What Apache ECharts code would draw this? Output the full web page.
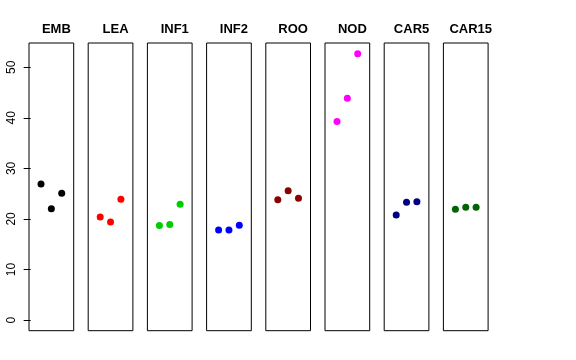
<!DOCTYPE html>
<html>
<head>
<meta charset="utf-8">
<script src="https://cdn.jsdelivr.net/npm/echarts@6/dist/echarts.min.js"></script>
<style>html,body{margin:0;padding:0;background:#fff}#c{width:576px;height:360px}</style>
</head>
<body>
<div id="c"></div>
<script>
const panels = ["EMB","LEA","INF1","INF2","ROO","NOD","CAR5","CAR15"];
const colors = ["#000000","#FF0000","#00CD00","#0000FF","#8B0000","#FF00FF","#000080","#006400"];
const positions = [1,2,3];
const EMB = [26.9,22.0,25.1];
const LEA = [20.4,19.4,23.9];
const INF1 = [18.7,18.9,22.9];
const INF2 = [17.8,17.8,18.75];
const ROO = [23.8,25.6,24.1];
const NOD = [39.3,43.9,52.7];
const CAR5 = [20.8,23.3,23.4];
const CAR15 = [21.9,22.3,22.3];
const yTicks = [0,10,20,30,40,50];
const values = [EMB,LEA,INF1,INF2,ROO,NOD,CAR5,CAR15];

const yMaxData = 52.7;
const yMin = -0.04*yMaxData, yMax = yMaxData*1.04;
const xMin = -0.16, xMax = 4.16;
const left0 = 29, step = 59.2, gw = 44.7, gTop = 43, gh = 287.7;

const grid=[], xAxis=[], yAxis=[], series=[], title=[];
panels.forEach((p,i)=>{
  const l = left0 + i*step;
  grid.push({left:l, top:gTop, width:gw, height:gh, show:true, borderColor:'#000', borderWidth:1, backgroundColor:'transparent'});
  xAxis.push({type:'value', gridIndex:i, min:xMin, max:xMax, show:false});
  yAxis.push({type:'value', gridIndex:i, min:yMin, max:yMax,
    show: i===0,
    axisLine:{show:false},
    splitLine:{show:false},
    axisTick:{show:true, length:7, inside:false, customValues:yTicks, lineStyle:{color:'#000'}},
    axisLabel:{show:true, customValues:yTicks, rotate:90, margin:11, color:'#000', fontSize:12, fontFamily:'Liberation Sans, Arial, sans-serif'}
  });
  title.push({text:p, left:l+gw/2, top:18, textAlign:'center',
    textStyle:{fontSize:13, fontWeight:'bold', color:'#000', fontFamily:'Liberation Sans, Arial, sans-serif'}});
  series.push({type:'scatter', xAxisIndex:i, yAxisIndex:i, symbolSize:7,
    itemStyle:{color:colors[i], opacity:1}, silent:true,
    data: positions.map((x,k)=>[x, values[i][k]])});
});

const chart = echarts.init(document.getElementById('c'), null, {renderer:'canvas'});
chart.setOption({animation:false, title, grid, xAxis, yAxis, series});
</script>
</body>
</html>
